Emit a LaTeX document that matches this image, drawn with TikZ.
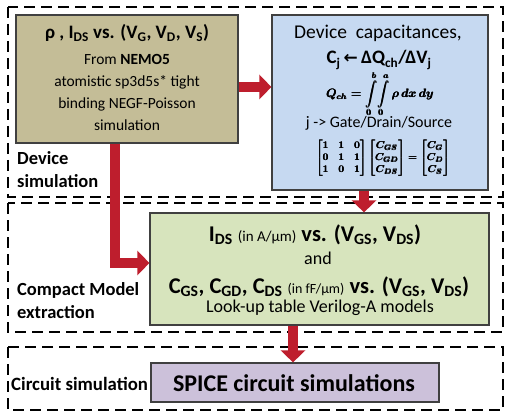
\documentclass[tikz,border=0pt]{standalone}
\usepackage{fontspec}
\usepackage{amsmath}
\setmainfont{Carlito}
\newfontfamily\dejavu{DejaVu Sans}
\usetikzlibrary{arrows.meta}
\definecolor{tanfill}{HTML}{C4BD97}
\definecolor{bluefill}{HTML}{C6D9F1}
\definecolor{greenfill}{HTML}{D7E4BD}
\definecolor{purplefill}{HTML}{CCC1DA}
\definecolor{arrowred}{HTML}{BE1E2D}
\definecolor{edgegray}{HTML}{404040}
\newcommand{\sbs}[1]{\textsubscript{#1}}
\newsavebox{\matbox}
\newsavebox{\intbox}
\newcommand{\heavybox}[1]{\mbox{\rlap{\usebox{#1}}\rlap{\raisebox{0.3pt}{\usebox{#1}}}\kern0.4pt\usebox{#1}}}
\tikzset{
  stage/.style={draw=black, line width=2.6pt, dash pattern=on 11pt off 6pt},
  box/.style={draw=edgegray, line width=1.2pt, inner sep=0pt},
  redarrow/.style={draw=arrowred, line width=10pt,
    -{Triangle[width=24pt,length=12pt]}},
  txt/.style={inner sep=0pt, align=center},
  lab/.style={inner sep=0pt, align=left, anchor=west, font=\bfseries\fontsize{18.5}{23}\selectfont}
}
\begin{document}
\begin{tikzpicture}[x=1pt,y=-1pt]
\sbox{\matbox}{\fontsize{10}{12}\selectfont\boldmath$\begin{bmatrix}1&1&0\\0&1&1\\1&0&1\end{bmatrix}
   \begin{bmatrix}C_{GS}\\C_{GD}\\C_{DS}\end{bmatrix}
   =\begin{bmatrix}C_{G}\\C_{D}\\C_{S}\end{bmatrix}$}
\sbox{\intbox}{\fontsize{11.5}{14}\selectfont\boldmath$Q_{ch}=\displaystyle\int\limits_0^b\!\int\limits_0^a \rho\, dx\, dy$}
\useasboundingbox (0,0) rectangle (507,412);
% stage frames
\draw[stage] (8,7) rectangle (503,197);
\draw[stage] (8,203) rectangle (503,332);
\draw[stage] (8,347) rectangle (503,410);
% boxes
\node[box, fill=tanfill, minimum width=222pt, minimum height=128pt] (tan) at (127,79) {};
\node[box, fill=bluefill, minimum width=216pt, minimum height=175pt] (blue) at (380,102.5) {};
\node[box, fill=greenfill, minimum width=339pt, minimum height=112pt] (green) at (319.5,269) {};
\node[box, fill=purplefill, minimum width=288pt, minimum height=39pt] (purple) at (295,382.5) {};
% tan text
\node[txt, font=\bfseries\fontsize{19}{22}\selectfont] (t1) at (127,33)
  {ρ , I\sbs{DS} vs. (V\sbs{G}, V\sbs{D}, V\sbs{S})};
\node[txt, font=\fontsize{15.5}{21.7}\selectfont] (t2) at (127,92.5)
  {From \textbf{NEMO5}\\atomistic sp3d5s* tight\\binding NEGF-Poisson\\simulation};
% blue text
\node[txt, font=\fontsize{19.5}{22}\selectfont] (b1) at (378,33) {Device\ \ capacitances,};
\node[txt, font=\bfseries\fontsize{19}{22}\selectfont] (b2) at (379,60)
  {C\sbs{j}\,{\dejavu\bfseries\fontsize{17}{18}\selectfont ←}\,ΔQ\sbs{ch}/ΔV\sbs{j}};
\node[txt] (b3) at (380,94) {\heavybox{\intbox}};
\node[txt, font=\fontsize{16}{18}\selectfont] (b4) at (379,123) {j -> Gate/Drain/Source};
\node[txt] (b5) at (383,158) {\heavybox{\matbox}};
% green text
\node[txt, font=\bfseries\fontsize{22.5}{24}\selectfont] (g1) at (315,235)
  {I\sbs{DS} {\mdseries\fontsize{15}{16}\selectfont (in A/μm)} vs. (V\sbs{GS}, V\sbs{DS})};
\node[txt, font=\fontsize{18}{20}\selectfont] (g2) at (318,258) {and};
\node[txt, font=\bfseries\fontsize{22.5}{24}\selectfont] (g3) at (319,287)
  {C\sbs{GS}, C\sbs{GD}, C\sbs{DS} {\mdseries\fontsize{14}{16}\selectfont (in fF/μm)} vs. (V\sbs{GS}, V\sbs{DS})};
\node[txt, font=\fontsize{18}{20}\selectfont] (g4) at (320,308) {Look-up table Verilog-A models};
% purple text
\node[txt, font=\bfseries\fontsize{24}{26}\selectfont] (p1) at (294,383) {SPICE circuit simulations};
% stage labels
\node[lab] (l1) at (17,170) {Device\\simulation};
\node[lab] (l2) at (17,300.5) {Compact Model\\extraction};
\node[lab, font=\bfseries\fontsize{18.8}{23}\selectfont] (l3) at (11,384) {Circuit simulation};
% arrows
\draw[redarrow] (tan.east |- 0,87) -- (blue.west |- 0,87);
\draw[redarrow, line join=miter] (tan.south -| 115,0) |- (green.west |- 0,263);
\draw[redarrow] (blue.south -| 364,0) -- (green.north -| 364,0);
\draw[redarrow] (green.south -| 293,0) -- (purple.north -| 293,0);
\end{tikzpicture}
\end{document}
